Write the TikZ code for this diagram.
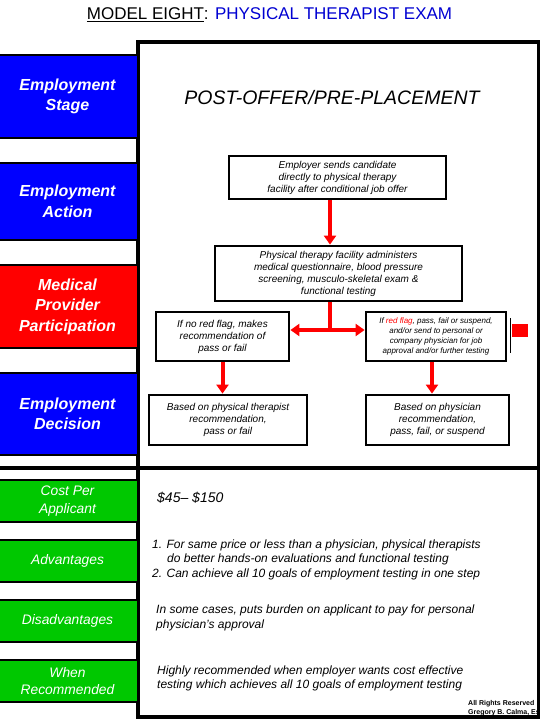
\documentclass[tikz,border=0pt]{standalone}
\usepackage{fontspec}
\setmainfont{Liberation Sans}
\usetikzlibrary{arrows.meta}
\definecolor{gboxc}{RGB}{0,200,0}
\definecolor{ttlblue}{RGB}{0,0,210}
\begin{document}
\begin{tikzpicture}[x=1pt,y=-1pt,
  lbox/.style={draw=black, line width=2.5pt, text=white, minimum width=141pt,
    font=\fontsize{16}{20.5}\selectfont\bfseries\itshape, align=center, inner sep=0pt},
  gbox/.style={draw=black, line width=2.5pt, fill=gboxc, text=white, minimum width=141pt, minimum height=42pt,
    font=\fontsize{13.8}{17.5}\selectfont\itshape, align=center, inner sep=0pt},
  flow/.style={draw=black, line width=2.8pt, fill=white,
    font=\fontsize{10}{12}\selectfont\itshape, align=center, inner sep=0pt},
  arr/.style={draw=red, line width=4pt, -{Triangle[length=9pt,width=12pt]}},
  body/.style={font=\fontsize{12}{14.6}\selectfont\itshape, align=left, anchor=west, inner sep=0pt}
]
\useasboundingbox (0,0) rectangle (540,720);
\fill[white] (0,0) rectangle (540,720);

% title
\node[font=\fontsize{17}{20}\selectfont, inner sep=0pt] (title) at (269.5,15)
  {\underline{MODEL EIGHT}: \textcolor{ttlblue}{PHYSICAL THERAPIST EXAM}};

% copyright (drawn before frame)
\node[font=\fontsize{7}{9}\selectfont\bfseries, align=left, anchor=north west, inner sep=0pt] (copy) at (468,700)
  {All Rights Reserved\\Gregory B. Calma, Es};

% frame
\draw[line width=3.5pt] (138,42) rectangle (538.5,717);
\draw[line width=3.5pt] (0,468) -- (538.5,468);

% left column
\node[lbox, fill=blue, minimum height=83pt] (stage) at (67.5,96.5) {Employment\\Stage};
\node[lbox, fill=blue, minimum height=77pt] (action) at (67.5,201.5) {Employment\\Action};
\node[lbox, fill=red, minimum height=83pt] (medical) at (67.5,306.5) {Medical\\Provider\\Participation};
\node[lbox, fill=blue, minimum height=82pt] (decision) at (67.5,414) {Employment\\Decision};

\node[gbox] (cost) at (67.5,501) {Cost Per\\Applicant};
\node[gbox] (adv) at (67.5,561) {Advantages};
\node[gbox] (dis) at (67.5,621) {Disadvantages};
\node[gbox] (when) at (67.5,681) {When\\Recommended};

% heading
\node[font=\fontsize{19.5}{22}\selectfont\itshape, inner sep=0pt] (hdr) at (332,97.5) {POST-OFFER/PRE-PLACEMENT};

% flow boxes
\node[flow, minimum width=217pt, minimum height=43pt] (b1) at (337.5,177.5)
  {Employer sends candidate\\directly to physical therapy\\facility after conditional job offer};
\node[flow, minimum width=247pt, minimum height=55pt] (b2) at (338.5,273.5)
  {Physical therapy facility administers\\medical questionnaire, blood pressure\\screening, musculo-skeletal exam \&\\functional testing};
\node[flow, minimum width=133pt, minimum height=49pt] (b3) at (222.5,336.5)
  {If no red flag, makes\\recommendation of\\pass or fail};
\node[flow, minimum width=140pt, minimum height=49pt, font=\fontsize{8}{10}\selectfont\itshape] (b4) at (436,336.5)
  {If \textcolor{red}{red flag}, pass, fail or suspend,\\and/or send to personal or\\company physician for job\\approval and/or further testing};
\node[flow, minimum width=158pt, minimum height=50pt] (b5) at (228,420)
  {Based on physical therapist\\recommendation,\\pass or fail};
\node[flow, minimum width=143pt, minimum height=50pt] (b6) at (437.5,420)
  {Based on physician\\recommendation,\\pass, fail, or suspend};

% connectors
\coordinate (j) at (330,330);
\coordinate (ax1) at (222.5,0);
\coordinate (ax2) at (432,0);
\draw[arr] (b1.south -| j) -- (b2.north -| j);
\draw[draw=red, line width=4pt] (b2.south -| j) -- (j);
\draw[arr] (j) -- (b3.east |- j);
\draw[arr] (j) -- (b4.west |- j);
\draw[arr] (b3.south -| ax1) -- (b5.north -| ax1);
\draw[arr] (b4.south -| ax2) -- (b6.north -| ax2);

% flag marker
\draw[line width=1.2pt] (510.5,318) -- (510.5,353);
\fill[red] (512,324) rectangle (528,337);

% lower texts
\node[body, font=\fontsize{14}{17}\selectfont\itshape] (costt) at (157,498) {\$45– \$150};
\node[body] (advt) at (152,559.7)
  {1. For same price or less than a physician, physical therapists\\\hspace*{15pt}do better hands-on evaluations and functional testing\\2. Can achieve all 10 goals of employment testing in one step};
\node[body] (dist) at (156,618) {In some cases, puts burden on applicant to pay for personal\\physician’s approval};
\node[body] (whent) at (157,678.5) {Highly recommended when employer wants cost effective\\testing which achieves all 10 goals of employment testing};
\end{tikzpicture}
\end{document}
